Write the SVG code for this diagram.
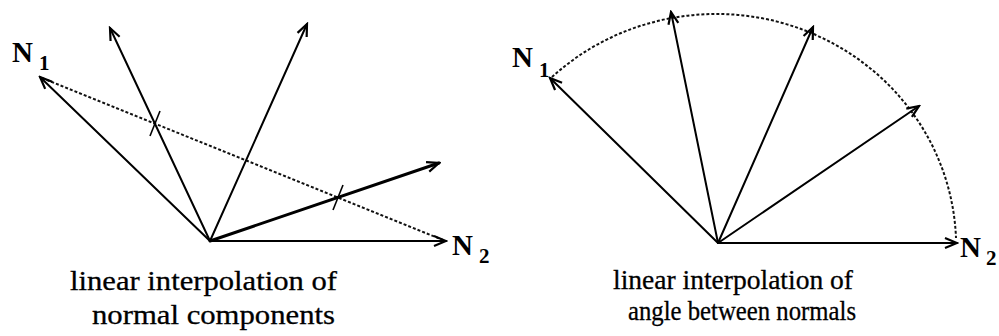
<svg xmlns="http://www.w3.org/2000/svg" width="999" height="336" viewBox="0 0 999 336">
  <style>
    .vec { stroke: #000; stroke-width: 2; fill: none; marker-end: url(#ah); stroke-linecap: round; }
    .thick { stroke-width: 3; }
    .dash { stroke: #111; stroke-width: 2; fill: none; stroke-dasharray: 3 2; }
    .tick { stroke: #000; stroke-width: 1.6; }
    text { font-family: "Liberation Serif", Tinos, "Times New Roman", Times, "Noto Serif", "DejaVu Serif", serif; }
    .lbl { font-weight: bold; fill: #000; }
    .N { font-size: 29px; }
    .sub { font-size: 21px; }
    .cap { font-size: 28px; fill: #000; stroke: #000; stroke-width: 0.3; }
  </style>
  <defs>
    <marker id="ah" viewBox="-14 -8 16 16" refX="0" refY="0" markerWidth="16" markerHeight="16" orient="auto" markerUnits="userSpaceOnUse">
      <path d="M-12,-5 L0,0 L-12,5" fill="none" stroke="#000" stroke-width="2.2" stroke-linejoin="miter"/>
    </marker>
  </defs>
  <rect width="999" height="336" fill="#fff"/>

  <g id="connectors">
    <line class="dash" x1="42" y1="78" x2="443" y2="240"/>
    <line class="vec" x1="210" y1="241" x2="40" y2="77"/>
    <line class="vec" x1="210" y1="241" x2="110" y2="28"/>
    <line class="vec" x1="210" y1="241" x2="307" y2="24"/>
    <line class="vec thick" x1="210" y1="241" x2="439" y2="163"/>
    <line class="vec" x1="210" y1="241" x2="446" y2="241"/>
    <line class="tick" x1="150" y1="136" x2="160" y2="111"/>
    <line class="tick" x1="333" y1="210" x2="343" y2="185"/>
    <path class="dash" d="M 552 77 A 240 233 0 0 1 956 238"/>
    <line class="vec" x1="718" y1="243" x2="550" y2="78"/>
    <line class="vec" x1="718" y1="243" x2="671" y2="12"/>
    <line class="vec" x1="718" y1="243" x2="813" y2="27"/>
    <line class="vec" x1="718" y1="243" x2="919" y2="106"/>
    <line class="vec" x1="718" y1="243" x2="957" y2="243"/>
  </g>

  <g id="left-N1">
    <text class="lbl N" x="12" y="62">N</text>
    <text class="lbl sub" x="39" y="70">1</text>
  </g>
  <g id="left-N2">
    <text class="lbl N" x="452" y="255">N</text>
    <text class="lbl sub" x="479" y="263">2</text>
  </g>
  <g id="right-N1">
    <text class="lbl N" x="512" y="67">N</text>
    <text class="lbl sub" x="539" y="77">1</text>
  </g>
  <g id="right-N2">
    <text class="lbl N" x="960" y="257">N</text>
    <text class="lbl sub" x="986" y="265">2</text>
  </g>

  <g id="left-caption">
    <text class="cap" x="70" y="290" textLength="267" lengthAdjust="spacingAndGlyphs">linear interpolation of</text>
    <text class="cap" x="92" y="324" textLength="243" lengthAdjust="spacingAndGlyphs">normal components</text>
  </g>
  <g id="right-caption">
    <text class="cap" x="613" y="289" textLength="240" lengthAdjust="spacingAndGlyphs">linear interpolation of</text>
    <text class="cap" x="628" y="320" textLength="228" lengthAdjust="spacingAndGlyphs">angle between normals</text>
  </g>
</svg>
